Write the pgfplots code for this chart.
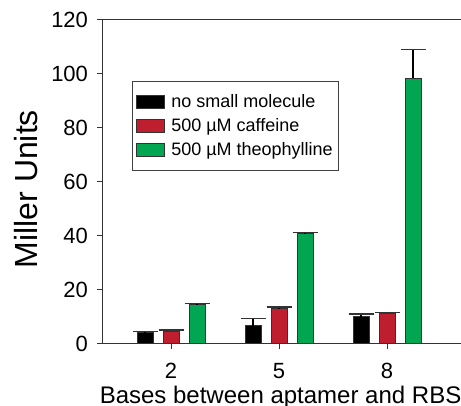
\documentclass[border=0pt]{standalone}
\usepackage{fontspec}
\setmainfont{Liberation Sans}
\usepackage{pgfplots}
\pgfplotsset{compat=1.18}
\definecolor{barred}{RGB}{190,30,45}
\definecolor{bargreen}{RGB}{0,166,81}
\begin{document}
\begin{tikzpicture}
\begin{axis}[
  name=ax,
  scale only axis, width=358pt, height=324pt,
  xmin=-0.63, xmax=2.685, ymin=0, ymax=120,
  axis x line=box, axis y line=left,
  axis line style={-, black!80, line width=1pt},
  xtick={0,1,2}, xticklabels={2,5,8},
  ytick={0,20,...,120},
  tick align=outside, xtick pos=left,
  major tick length=5.5pt,
  tick style={black!80, line width=1pt},
  ticklabel style={font=\fontsize{22}{24}\selectfont},
  xticklabel style={yshift=-10pt},
  yticklabel style={xshift=-6pt},
  /pgf/number format/assume math mode=true,
  ybar=10pt, bar width=16pt,
  ylabel={Miller Units},
  ylabel style={font=\fontsize{32}{34}\selectfont, at={(axis description cs:-0.214,0.478)}, anchor=center, rotate=0},
  xlabel={Bases between aptamer and RBS},
  xlabel style={font=\fontsize{24}{26}\selectfont, at={(axis description cs:0.496,-0.183)}, anchor=base},
  legend style={at={(axis description cs:0.081,0.812)}, anchor=north west,
    draw=black!75, line width=0.8pt, font=\fontsize{18}{20}\selectfont,
    inner xsep=4pt, inner ysep=11pt, row sep=5.5pt},
  legend cell align=left,
  legend image code/.code={\draw[#1, draw=black!80, line width=0.8pt] (0pt,-6.5pt) rectangle (28pt,6.5pt);
    \path (32pt,0pt);},
  error bars/error bar style={black, line width=1.3pt},
  error bars/error mark options={rotate=90, black!80, line width=1.1pt, mark size=12.5pt},
]
  % no small molecule
  \addplot[fill=black, draw=black!80, line width=1pt,
    error bars/.cd, y dir=plus, y explicit]
    coordinates {(0,4.3) +- (0,0.3) (1,6.8) +- (0,2.6) (2,10.1) +- (0,1.0)};
  % 500 uM caffeine
  \addplot[fill=barred, draw=black!80, line width=1pt,
    error bars/.cd, y dir=plus, y explicit]
    coordinates {(0,4.8) +- (0,0.4) (1,13.0) +- (0,0.7) (2,11.4) +- (0,0.3)};
  % 500 uM theophylline
  \addplot[fill=bargreen, draw=black!80, line width=1pt,
    error bars/.cd, y dir=plus, y explicit]
    coordinates {(0,14.7) +- (0,0.2) (1,41.0) +- (0,0.2) (2,98.4) +- (0,10.6)};
  \legend{no small molecule, 500 µM caffeine, 500 µM theophylline}
\end{axis}
\pgfresetboundingbox
\path[use as bounding box] (ax.south west) ++(-103pt,-62pt) rectangle ++(461pt,406pt);
\end{tikzpicture}
\end{document}
